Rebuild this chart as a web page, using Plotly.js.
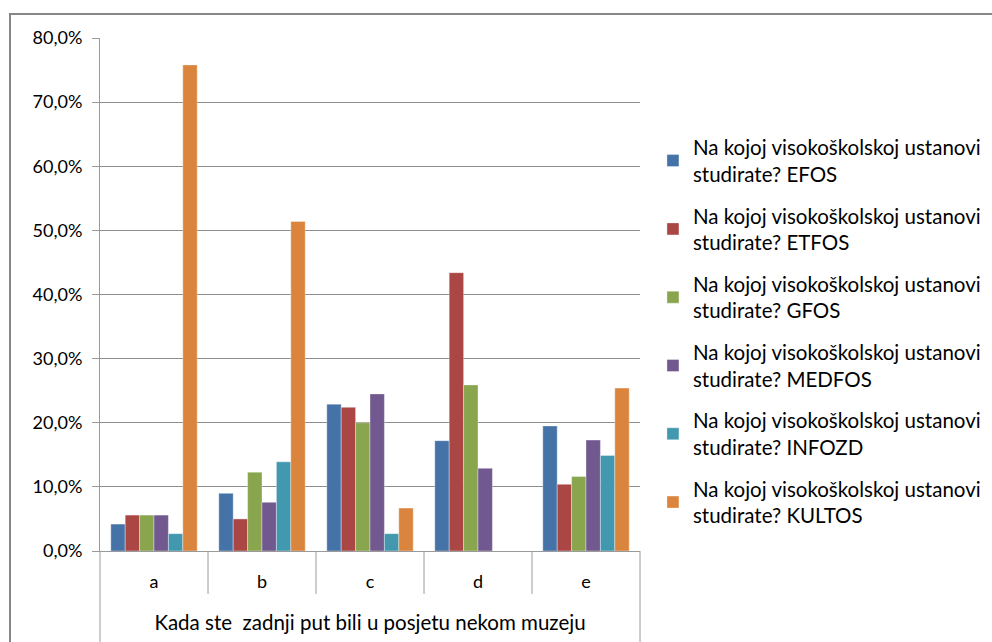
<!DOCTYPE html>
<html>
<head>
<meta charset="utf-8">
<script src="https://cdn.plot.ly/plotly-3.0.1.min.js"></script>
<style>
  body { margin: 0; background: #fff; }
  #chart { position: absolute; left: 0; top: 0; width: 992px; height: 642px; }
  #frame { position: absolute; left: 9px; top: 13px; width: 1000px; height: 700px;
           border: 2px solid #868686; pointer-events: none; }
</style>
</head>
<body>
<div id="chart"></div>
<div id="frame"></div>
<script>
const categories = ["a", "b", "c", "d", "e"];
const seriesNames = [
  "Na kojoj visokoškolskoj ustanovi<br>studirate? EFOS",
  "Na kojoj visokoškolskoj ustanovi<br>studirate? ETFOS",
  "Na kojoj visokoškolskoj ustanovi<br>studirate? GFOS",
  "Na kojoj visokoškolskoj ustanovi<br>studirate? MEDFOS",
  "Na kojoj visokoškolskoj ustanovi<br>studirate? INFOZD",
  "Na kojoj visokoškolskoj ustanovi<br>studirate? KULTOS"
];
const efos   = [0.042, 0.090, 0.229, 0.172, 0.195];
const etfos  = [0.056, 0.050, 0.224, 0.434, 0.104];
const gfos   = [0.056, 0.123, 0.200, 0.259, 0.116];
const medfos = [0.056, 0.076, 0.245, 0.129, 0.173];
const infozd = [0.027, 0.139, 0.027, 0.000, 0.149];
const kultos = [0.758, 0.514, 0.067, 0.000, 0.254];
const seriesValues = [efos, etfos, gfos, medfos, infozd, kultos];
const colors = ["#4572A7", "#AA4643", "#89A54E", "#71588F", "#4198AF", "#DB843D"];
const xTitle = "Kada ste\u00a0 zadnji put bili u posjetu nekom muzeju";

const FONT = "Lato, 'Open Sans', sans-serif";
const data = seriesValues.map((vals, i) => ({
  type: "bar",
  x: categories,
  y: vals,
  name: seriesNames[i],
  legendgroup: "g" + i,
  marker: { color: colors[i], line: { color: "rgba(255,255,255,0.6)", width: 0.6 } },
  hoverinfo: "skip"
}));

const plotH = 551 - 38;
const shapes = [];
for (let i = 1; i < categories.length; i++) {
  shapes.push({ type: "line", xref: "x", yref: "paper", x0: i - 0.5, x1: i - 0.5,
    y0: 0, y1: -43 / plotH, line: { color: "#9a9a9a", width: 1 } });
}
shapes.push({ type: "line", xref: "paper", yref: "paper", x0: 0, x1: 0, y0: 0, y1: -95 / plotH,
  line: { color: "#9a9a9a", width: 1 } });
shapes.push({ type: "line", xref: "paper", yref: "paper", x0: 1, x1: 1, y0: 0, y1: -95 / plotH,
  line: { color: "#9a9a9a", width: 1 } });

const layout = {
  width: 992, height: 642,
  margin: { l: 100, r: 352, t: 38, b: 91, autoexpand: false },
  paper_bgcolor: "rgba(0,0,0,0)", plot_bgcolor: "#fff",
  separators: ",.",
  font: { family: FONT, size: 18, color: "#000" },
  barmode: "group", bargap: 0.2, bargroupgap: 0,
  showlegend: true,
  legend: { x: 1.024, y: 0.428, xanchor: "left", yanchor: "middle",
    traceorder: "grouped", tracegroupgap: 12,
    font: { family: FONT, size: 20.5, color: "#000" } },
  xaxis: {
    type: "category", showgrid: false, zeroline: false,
    showline: true, linecolor: "#9a9a9a", linewidth: 1,
    ticks: "", ticklabelstandoff: 14,
    tickfont: { family: FONT, size: 18 },
    title: { text: xTitle, font: { family: FONT, size: 20.5 }, standoff: 25 },
    automargin: false
  },
  yaxis: {
    range: [0, 0.8], dtick: 0.1, tickformat: ".1%",
    showgrid: true, gridcolor: "#8c8c8c", gridwidth: 1,
    zeroline: false, showline: true, linecolor: "#9a9a9a", linewidth: 1,
    ticks: "outside", ticklen: 7, tickcolor: "#9a9a9a",
    ticklabelstandoff: 6,
    tickfont: { family: FONT, size: 18 },
    automargin: false
  },
  shapes: shapes
};

Plotly.newPlot("chart", data, layout, { staticPlot: true, displayModeBar: false });
</script>
</body>
</html>
